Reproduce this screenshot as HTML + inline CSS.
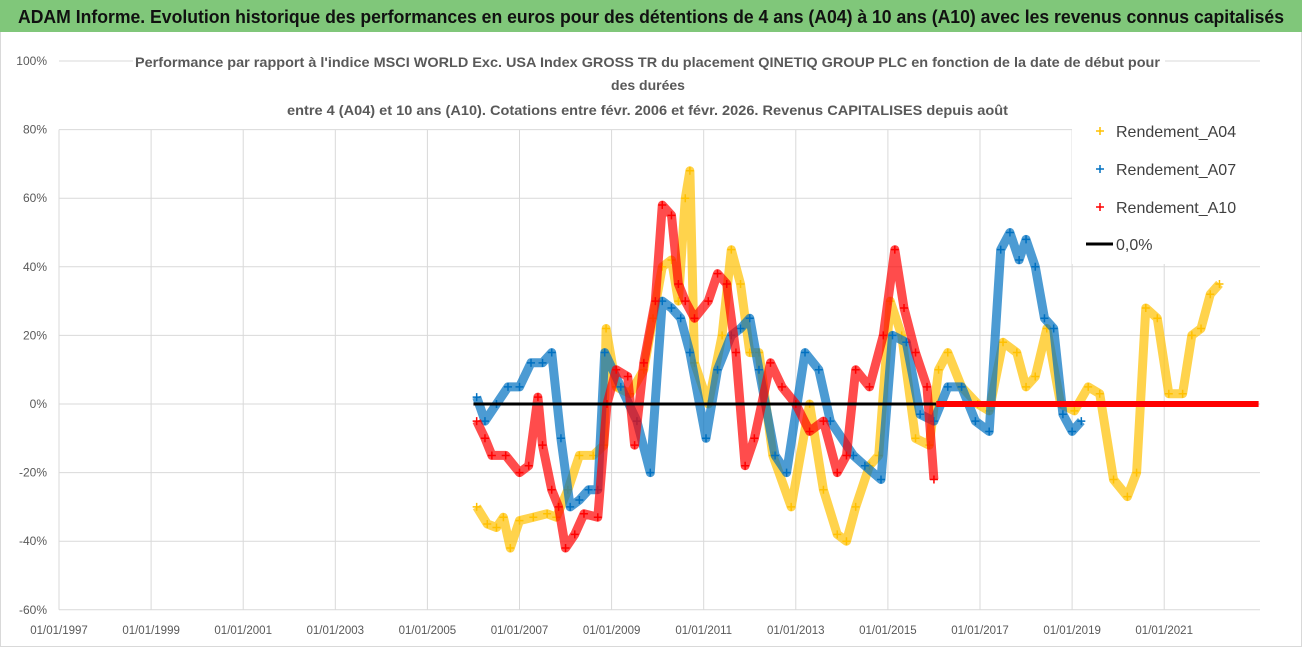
<!DOCTYPE html>
<html><head><meta charset="utf-8"><style>
html,body{margin:0;padding:0;background:#fff;}
svg{display:block;font-family:"Liberation Sans",sans-serif;}
</style></head><body>
<svg id="chart" width="1302" height="647" viewBox="0 0 1302 647">
<rect x="0.5" y="0.5" width="1301" height="646" fill="#fff" stroke="#d9d9d9"/>
<rect x="0" y="0" width="1302" height="32" fill="#80c77a"/>
<text x="18" y="23" font-size="18" font-weight="bold" fill="#111" textLength="1266" lengthAdjust="spacingAndGlyphs">ADAM Informe. Evolution historique des performances en euros pour des détentions de 4 ans (A04) à 10 ans (A10) avec les revenus connus capitalisés</text>
<g id="grid"></g>
<g id="axes"></g>
<g id="series"></g>
<rect x="133" y="44" width="1032" height="76" fill="#fff"/>
<g fill="#595959" font-weight="bold" font-size="14">
<text x="135" y="67" textLength="1025" lengthAdjust="spacingAndGlyphs">Performance par rapport à l'indice MSCI WORLD Exc. USA Index GROSS TR  du placement QINETIQ GROUP PLC en fonction de la date de début pour</text>
<text x="648" y="90" text-anchor="middle">des durées</text>
<text x="287" y="115" textLength="721" lengthAdjust="spacingAndGlyphs">entre 4 (A04) et 10 ans (A10).  Cotations entre févr. 2006 et févr. 2026. Revenus CAPITALISES depuis août</text>
</g>
<rect x="1072" y="112" width="222" height="152" fill="#fff"/>
<g font-size="16" fill="#404040">
<g><path d="M1096 131h8M1100 127v8" stroke="#ffc000" stroke-width="1.5"/><text x="1116" y="137">Rendement_A04</text></g>
<g><path d="M1096 169h8M1100 165v8" stroke="#0070c0" stroke-width="1.5"/><text x="1116" y="175">Rendement_A07</text></g>
<g><path d="M1096 207h8M1100 203v8" stroke="#ff0000" stroke-width="1.5"/><text x="1116" y="213">Rendement_A10</text></g>
<g><path d="M1086 244h27" stroke="#000" stroke-width="3"/><text x="1116" y="250">0,0%</text></g>
</g>
</svg>
<script>
const yTicks = [100, 80, 60, 40, 20, 0, -20, -40, -60];
const yTickLabels = ["100%", "80%", "60%", "40%", "20%", "0%", "-20%", "-40%", "-60%"];
const xTicks = [1997, 1999, 2001, 2003, 2005, 2007, 2009, 2011, 2013, 2015, 2017, 2019, 2021];
const xTickLabels = ["01/01/1997","01/01/1999","01/01/2001","01/01/2003","01/01/2005","01/01/2007","01/01/2009","01/01/2011","01/01/2013","01/01/2015","01/01/2017","01/01/2019","01/01/2021"];
const a04Years = [2006.07,2006.3,2006.5,2006.65,2006.8,2007.0,2007.3,2007.6,2007.8,2008.05,2008.3,2008.6,2008.83,2008.88,2009.1,2009.4,2009.7,2009.9,2010.1,2010.3,2010.45,2010.6,2010.7,2010.8,2011.1,2011.4,2011.6,2011.8,2012.0,2012.2,2012.5,2012.9,2013.3,2013.6,2013.9,2014.1,2014.3,2014.6,2014.8,2015.05,2015.3,2015.6,2015.9,2016.1,2016.3,2016.6,2016.95,2017.2,2017.5,2017.8,2018.0,2018.2,2018.45,2018.75,2019.05,2019.35,2019.6,2019.9,2020.2,2020.4,2020.6,2020.85,2021.1,2021.4,2021.6,2021.8,2022.0,2022.2];
const a04Vals = [-30,-35,-36,-33,-42,-34,-33,-32,-33,-25,-15,-15,-12,22,5,3,10,25,40,42,30,60,68,12,0,20,45,35,15,15,-15,-30,0,-25,-38,-40,-30,-18,-15,30,20,-10,-12,10,15,5,0,-2,18,15,5,8,22,0,-2,5,3,-22,-27,-20,28,25,3,3,20,22,32,35];
const a07Years = [2006.07,2006.25,2006.5,2006.75,2007.0,2007.25,2007.5,2007.7,2007.9,2008.1,2008.3,2008.5,2008.7,2008.85,2009.2,2009.55,2009.84,2010.1,2010.3,2010.5,2010.7,2011.05,2011.3,2011.6,2011.8,2012.0,2012.2,2012.55,2012.8,2013.2,2013.5,2013.75,2014.25,2014.5,2014.85,2015.1,2015.4,2015.7,2016.0,2016.3,2016.6,2016.9,2017.2,2017.45,2017.65,2017.85,2018.0,2018.2,2018.4,2018.6,2018.8,2019.0,2019.2];
const a07Vals = [2,-5,0,5,5,12,12,15,-10,-30,-28,-25,-25,15,5,-5,-20,30,28,25,15,-10,10,20,22,25,10,-15,-20,15,10,-5,-15,-18,-22,20,18,-3,-5,5,5,-5,-8,45,50,42,48,40,25,22,-3,-8,-5];
const a10Years = [2006.07,2006.25,2006.4,2006.7,2007.0,2007.2,2007.4,2007.5,2007.7,2007.85,2008.0,2008.2,2008.4,2008.7,2008.9,2009.1,2009.35,2009.5,2009.7,2009.95,2010.1,2010.3,2010.45,2010.6,2010.8,2011.1,2011.3,2011.5,2011.7,2011.9,2012.1,2012.45,2012.7,2013.0,2013.3,2013.6,2013.9,2014.1,2014.3,2014.6,2014.9,2015.15,2015.35,2015.6,2015.85,2016.0];
const a10Vals = [-5,-10,-15,-15,-20,-18,2,-12,-25,-30,-42,-38,-32,-33,0,10,8,-12,12,30,58,55,35,30,25,30,38,35,15,-18,-10,12,5,0,-8,-5,-20,-15,10,5,20,45,28,15,5,-22];
const a10FlatYears = [2016.05, 2023.05];
const a10FlatVals = [0, 0];
const zeroLineYears = [2006.0, 2016.05];
const zeroLineVals = [0, 0];

const X = yr => 59 + (yr - 1997) * 46.05;
const Y = v => 404 - v * 3.43;
const NS = "http://www.w3.org/2000/svg";
function mk(tag, attrs, parent){ const e=document.createElementNS(NS,tag); for(const k in attrs) e.setAttribute(k,attrs[k]); parent.appendChild(e); return e; }
const grid=document.getElementById('grid'), axes=document.getElementById('axes'), ser=document.getElementById('series');
yTicks.forEach((t,i)=>{
  const l=mk('line',{x1:59,x2:1260,y1:Y(t),y2:Y(t),stroke:'#d9d9d9','stroke-width':1},grid);
  
  
  const tx=mk('text',{x:47,y:Y(t)+4,'text-anchor':'end','font-size':12,fill:'#595959'},axes);
  tx.textContent=yTickLabels[i];
  
  
});
xTicks.forEach((t,i)=>{
  const l=mk('line',{x1:X(t),x2:X(t),y1:Y(80),y2:Y(-60),stroke:'#d9d9d9','stroke-width':1},grid);
  
  
  const tx=mk('text',{x:X(t),y:634,'text-anchor':'middle','font-size':11.5,fill:'#595959'},axes);
  tx.textContent=xTickLabels[i];
  
  
});
function drawSeries(years, vals, color, name){
  const g=mk('g',{},ser);
  
  
  const pts=years.map((y,i)=>X(y).toFixed(1)+','+Y(vals[i]).toFixed(1)).join(' ');
  mk('polyline',{points:pts,fill:'none',stroke:color,'stroke-width':9,'stroke-linejoin':'round','stroke-opacity':0.7},g);
  years.forEach((y,i)=>{
    const x=X(y), yy=Y(vals[i]);
    const p=mk('path',{d:`M${x-4} ${yy}h8M${x} ${yy-4}v8`,stroke:color,'stroke-width':1.5},g);
    
    
  });
}
drawSeries(a04Years,a04Vals,'#ffc000','series-a04');
drawSeries(a07Years,a07Vals,'#0070c0','series-a07');
drawSeries(a10Years,a10Vals,'#ff0000','series-a10');
const zl=mk('line',{x1:X(zeroLineYears[0]),x2:X(zeroLineYears[1]),y1:Y(zeroLineVals[0]),y2:Y(zeroLineVals[1]),stroke:'#000','stroke-width':3},ser);


const fl=mk('line',{x1:X(a10FlatYears[0]),x2:X(a10FlatYears[1]),y1:Y(a10FlatVals[0]),y2:Y(a10FlatVals[1]),stroke:'#ff0000','stroke-width':6},ser);


</script>
</body></html>
